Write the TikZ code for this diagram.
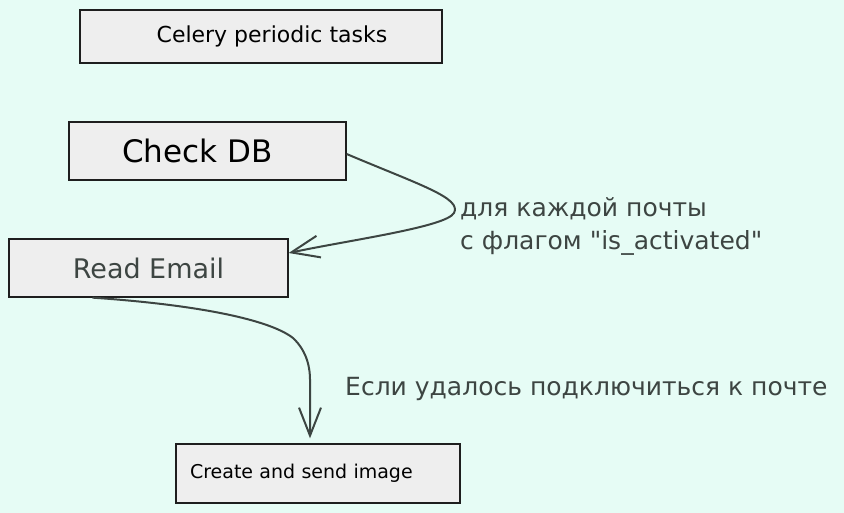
\documentclass[tikz,border=0pt]{standalone}
\usepackage{fontspec}
\setmainfont{DejaVu Sans}[Ligatures=TeXOff]
\usetikzlibrary{arrows.meta}
\definecolor{mintbg}{HTML}{E6FCF5}
\definecolor{boxfill}{HTML}{EEEEEE}
\definecolor{inkdark}{HTML}{1E1E1E}
\definecolor{inkgray}{HTML}{3D4542}
\def\taskbox{\node[draw=inkdark,fill=boxfill,line width=1.3pt,inner sep=0pt]}
\tikzset{
  flow/.style={draw=inkgray,line width=2pt,-{Straight Barb[length=28pt,width=22pt]}},
  note/.style={text=inkgray,font=\fontsize{25}{33}\selectfont,inner sep=0pt}
}

\begin{document}
\begin{tikzpicture}[x=1pt,y=1pt]
\fill[mintbg] (0,0) rectangle (844,-513);
\useasboundingbox (0,0) rectangle (844,-513);
\taskbox[minimum width=362pt,minimum height=53pt,font=\fontsize{22}{24}\selectfont] (celery) at (261,-36.5) {\hspace*{22pt}Celery periodic tasks};
\taskbox[minimum width=277pt,minimum height=58pt,font=\fontsize{31}{34}\selectfont] (check) at (207.5,-151) {Check DB\hspace*{20pt}};
\taskbox[minimum width=279pt,minimum height=58pt,text=inkgray,font=\fontsize{27}{30}\selectfont] (read) at (148.5,-268) {Read Email};
\taskbox[minimum width=284pt,minimum height=59pt,text width=256pt,align=left,font=\fontsize{19}{22}\selectfont] (create) at (318,-473.5) {Create and send image};
\node[note,anchor=west,align=left] (everymail) at (460,-226) {для каждой почты\\с флагом "is\_activated"};
\node[note,anchor=base west] (connected) at (345,-395) {Если удалось подключиться к почте};
\draw[flow] ([yshift=-3pt]check.east) .. controls (420,-185) and (462,-198) .. (454,-213)
  .. controls (446,-227) and (350,-240) .. ([yshift=15pt]read.east);
\draw[flow] ([xshift=-56pt]read.south) .. controls (200,-305) and (270,-320) .. (293,-338)
  .. controls (308,-352) and (310,-370) .. ([xshift=-8pt,yshift=64pt]create.north) -- ([xshift=-8pt,yshift=5pt]create.north);
\end{tikzpicture}
\end{document}
